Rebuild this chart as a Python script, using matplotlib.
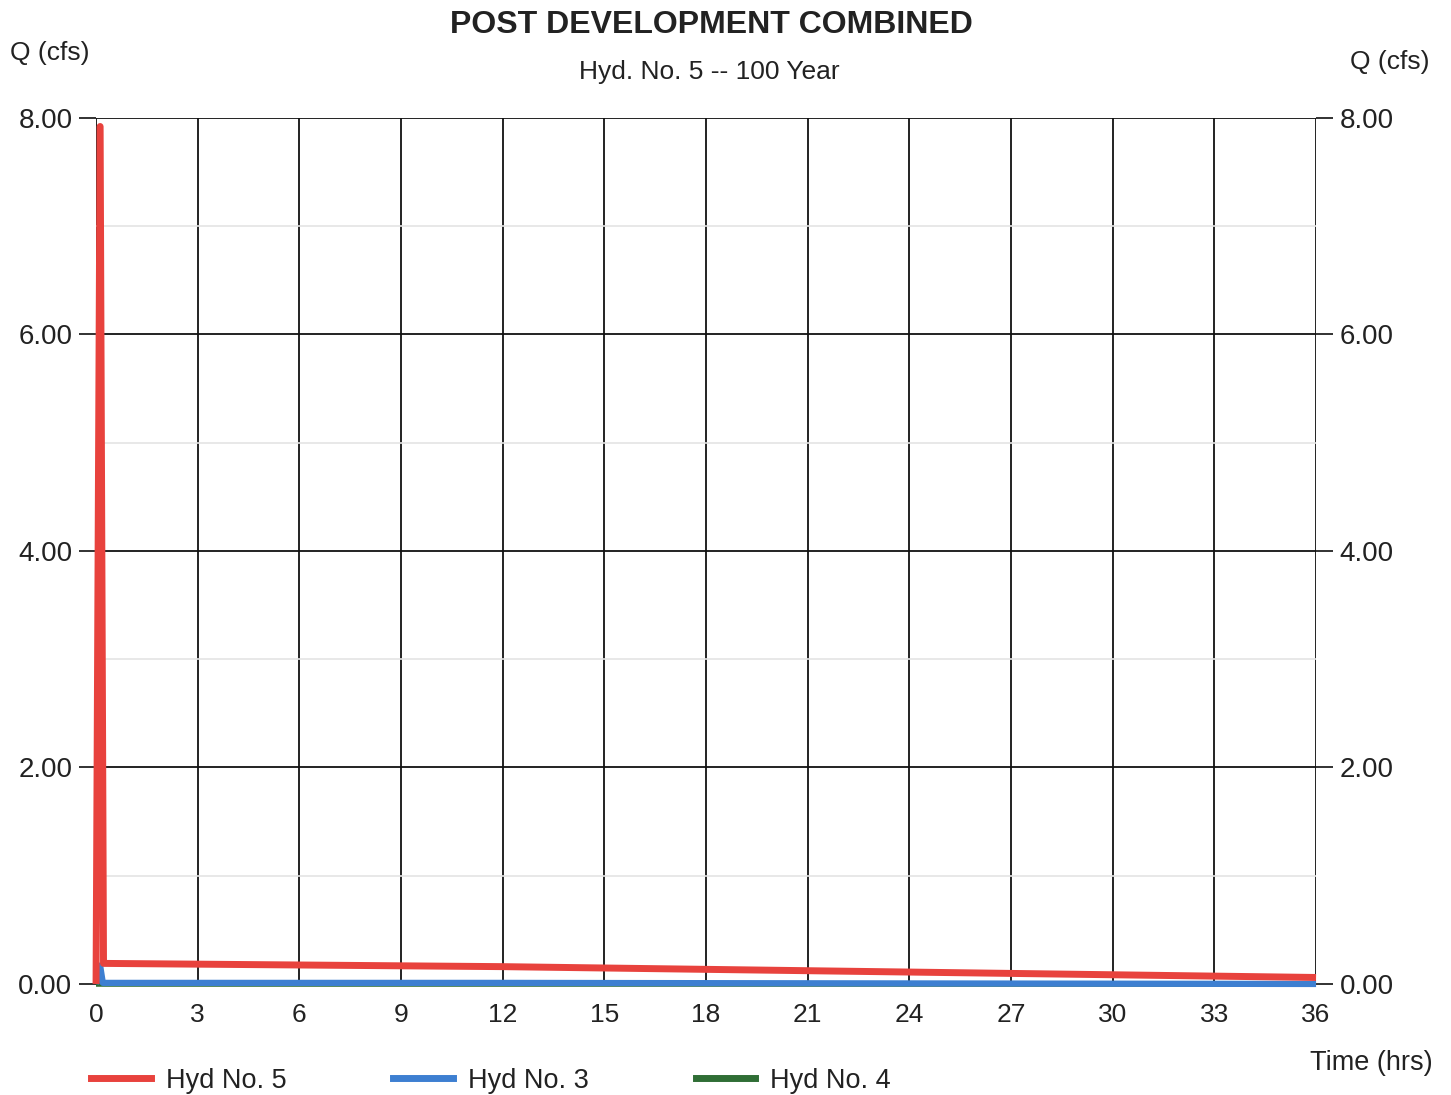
import matplotlib
matplotlib.use("Agg")
import matplotlib.pyplot as plt
from matplotlib.lines import Line2D

plt.rcParams['font.family'] = ['Liberation Sans', 'DejaVu Sans']

# ---- data ----
title = "POST DEVELOPMENT COMBINED"
subtitle = "Hyd. No. 5 -- 100 Year"
hyd5_t = [0.0, 0.12, 0.22, 12.0, 24.0, 36.0]
hyd5_q = [0.0, 7.92, 0.19, 0.16, 0.11, 0.06]
hyd3_t = [0.0, 0.12, 0.2, 12.0, 24.0, 36.0]
hyd3_q = [0.0, 0.17, 0.01, 0.01, 0.005, 0.0]
hyd4_t = [0.0, 36.0]
hyd4_q = [0.0, 0.0]
series_labels = ["Hyd No. 5", "Hyd No. 3", "Hyd No. 4"]
series_colors = ["#e8423d", "#3d7fd1", "#2f6e35"]
x_ticks = [0, 3, 6, 9, 12, 15, 18, 21, 24, 27, 30, 33, 36]
y_ticks = [0, 2, 4, 6, 8]
y_minor = [1, 3, 5, 7]

fig = plt.figure(figsize=(14.51, 10.95), dpi=100)
ax = fig.add_axes([0.0662, 0.1014, 0.8408, 0.791])

ax.set_xlim(0, 36)
ax.set_ylim(0, 8)

for s in ax.spines.values():
    s.set_visible(False)

ax.set_xticks(x_ticks)
ax.set_xticklabels([str(v) for v in x_ticks])
ax.set_yticks(y_ticks)
ax.set_yticklabels([f"{v:.2f}" for v in y_ticks])
ax.set_yticks(y_minor, minor=True)

ax.tick_params(axis='x', length=0, pad=14, labelsize=19, colors='#222222')
ax.tick_params(axis='y', which='major', length=12, width=1.3, pad=5, labelsize=20,
               direction='out', left=True, right=True, labelleft=True, labelright=True,
               colors='#222222')
ax.tick_params(axis='y', which='minor', length=0)

ax.grid(True, which='major', axis='both', color='#111111', linewidth=1.3)
ax.grid(True, which='minor', axis='y', color='#e4e4e4', linewidth=1.2)
ax.set_axisbelow(True)

ax.plot(hyd4_t, hyd4_q, color=series_colors[2], linewidth=4, solid_capstyle='butt', clip_on=False, zorder=3)
ax.plot(hyd3_t, hyd3_q, color=series_colors[1], linewidth=4.5, solid_capstyle='butt', clip_on=False, zorder=4)
ax.plot(hyd5_t, hyd5_q, color=series_colors[0], linewidth=5, solid_capstyle='butt', clip_on=False, zorder=5)

fig.text(0.49, 0.977, title, ha='center', va='center', fontsize=23, fontweight='bold', color='#222222')
fig.text(0.489, 0.934, subtitle, ha='center', va='center', fontsize=19, color='#222222')
fig.text(0.034, 0.952, "Q (cfs)", ha='center', va='center', fontsize=19, color='#222222')
fig.text(0.958, 0.943, "Q (cfs)", ha='center', va='center', fontsize=19, color='#222222')
fig.text(0.945, 0.029, "Time (hrs)", ha='center', va='center', fontsize=19.5, color='#222222')

handles = [Line2D([], [], color=c, linewidth=5) for c in series_colors]
fig.legend(handles, series_labels, loc='center left', bbox_to_anchor=(0.046, 0.013),
           ncol=3, frameon=False, fontsize=19.5, handlelength=2.2, handletextpad=0.55,
           columnspacing=3.95, labelcolor='#222222')

fig.savefig("out.png", dpi=100)
